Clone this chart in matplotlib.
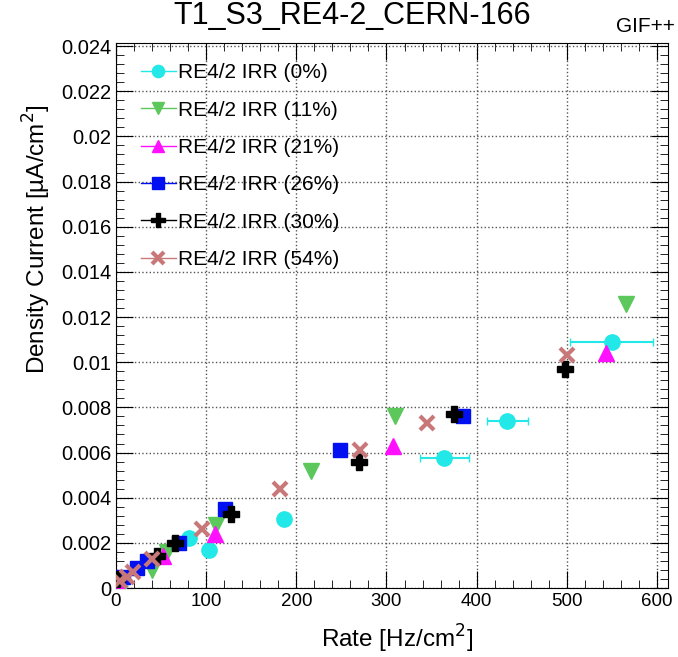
import matplotlib
matplotlib.use("Agg")
import matplotlib.pyplot as plt
from matplotlib.lines import Line2D
from matplotlib.ticker import MultipleLocator

plt.rcParams['font.family'] = ['Liberation Sans', 'DejaVu Sans']

# RE4/2 IRR (0%)
rate_0 = [0.5, 5, 81, 103, 186, 364, 434, 550]
curr_0 = [0.0, 0.0002, 0.0022, 0.0017, 0.00305, 0.00575, 0.0074, 0.0109]
rate_0_err = [0.5, 1, 3, 4, 6, 27, 23, 46]

# RE4/2 IRR (11%)
rate_11 = [40, 57, 111, 216, 310, 566]
curr_11 = [0.0008, 0.0016, 0.0028, 0.0052, 0.0076, 0.0126]

# RE4/2 IRR (21%)
rate_21 = [4, 52, 110, 307, 543]
curr_21 = [0.0, 0.0014, 0.0024, 0.0063, 0.0104]

# RE4/2 IRR (26%)
rate_26 = [8, 23, 34, 70, 121, 248, 385]
curr_26 = [0.0005, 0.0009, 0.0012, 0.0020, 0.0035, 0.0061, 0.0076]

# RE4/2 IRR (30%)
rate_30 = [1, 45, 66, 128, 269, 375, 498]
curr_30 = [0.0004, 0.0014, 0.0020, 0.0033, 0.0056, 0.0077, 0.0097]

# RE4/2 IRR (54%)
rate_54 = [4, 12, 19, 40, 95, 182, 271, 345, 500]
curr_54 = [0.0003, 0.0005, 0.0007, 0.0013, 0.0026, 0.0044, 0.0061, 0.0073, 0.0103]

labels = ['RE4/2 IRR (0%)', 'RE4/2 IRR (11%)', 'RE4/2 IRR (21%)',
          'RE4/2 IRR (26%)', 'RE4/2 IRR (30%)', 'RE4/2 IRR (54%)']

# (x, y, marker, colour, size, edge width)
series = [
    (rate_0, curr_0, 'o', '#22e8e8', 11, 1),
    (rate_11, curr_11, 'v', '#5cc85c', 11, 1),
    (rate_21, curr_21, '^', '#ff10ff', 11, 1),
    (rate_26, curr_26, 's', '#0010f0', 10, 1),
    (rate_30, curr_30, 'P', 'black', 12, 1),
    (rate_54, curr_54, 'x', '#c87878', 10, 3),
]

fig = plt.figure(figsize=(6.78, 6.57), dpi=100)
ax = fig.add_axes([0.171, 0.105, 0.814, 0.83])

ax.errorbar(rate_0, curr_0, xerr=rate_0_err, fmt='none', ecolor='#22e8e8',
            elinewidth=1.5, capsize=3, zorder=2)

handles = []
for (x, y, m, c, s, mew), lab in zip(series, labels):
    ax.plot(x, y, ls='none', marker=m, color=c, ms=s, mew=mew, zorder=3)
    handles.append(Line2D([], [], ls='-', lw=1, marker=m, color=c, ms=s * 0.8, mew=mew))

ax.set_xlim(0, 612)
ax.set_ylim(0, 0.02415)
ax.xaxis.set_major_locator(MultipleLocator(100))
ax.xaxis.set_minor_locator(MultipleLocator(20))
ax.yaxis.set_major_locator(MultipleLocator(0.002))
ax.yaxis.set_minor_locator(MultipleLocator(0.0004))
ax.yaxis.set_major_formatter(plt.FuncFormatter(
    lambda v, p: f"{v:.3f}".rstrip('0').rstrip('.') if v else "0"))
ax.tick_params(which='both', direction='in', top=True, right=True, labelsize=14.5)
ax.tick_params(axis='x', labelsize=13.5)
ax.tick_params(which='major', length=12)
ax.tick_params(which='minor', length=6)
ax.grid(True, which='major', ls=':', color='#555555', lw=1)
ax.set_axisbelow(True)

ax.set_xlabel('Rate [Hz/cm$^2$]', fontsize=17.5, va='center')
ax.xaxis.set_label_coords(0.51, -0.094)
ax.set_ylabel('Density Current [µA/cm$^2$]', fontsize=17.5, va='center')
ax.yaxis.set_label_coords(-0.143, 0.64)

ax.legend(handles, labels, loc='upper left', bbox_to_anchor=(0.022, 0.985),
          frameon=False, fontsize=15, handlelength=1.7, handletextpad=0.1,
          labelspacing=0.88, borderaxespad=0.2)

fig.text(0.52, 0.999, 'T1_S3_RE4-2_CERN-166', fontsize=22, ha='center', va='top')
fig.text(0.995, 0.959, 'GIF++', fontsize=15, ha='right', va='center')

fig.savefig('out.png', dpi=100)
